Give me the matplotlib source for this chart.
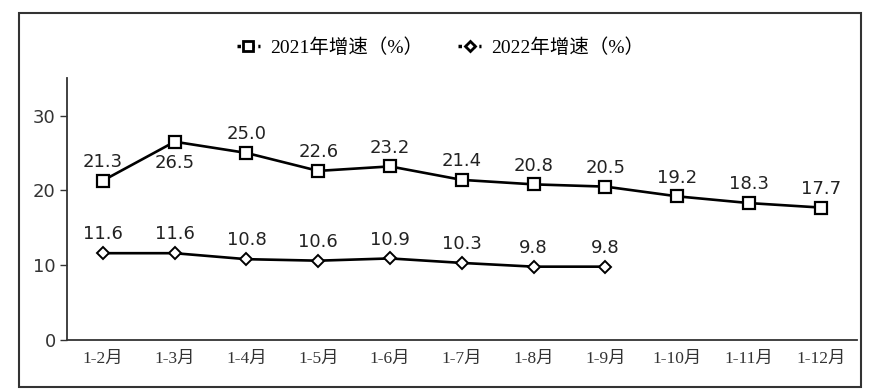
import matplotlib.pyplot as plt
from matplotlib.patches import Rectangle

# data
months = ["1-2月", "1-3月", "1-4月", "1-5月", "1-6月", "1-7月",
          "1-8月", "1-9月", "1-10月", "1-11月", "1-12月"]
growth_2021 = [21.3, 26.5, 25.0, 22.6, 23.2, 21.4, 20.8, 20.5, 19.2, 18.3, 17.7]
growth_2022 = [11.6, 11.6, 10.8, 10.6, 10.9, 10.3, 9.8, 9.8]
label_2021 = "2021年增速（%）"
label_2022 = "2022年增速（%）"

cjk = ["Liberation Serif", "Noto Sans CJK SC"]

fig = plt.figure(figsize=(8.86, 3.92), dpi=100)
ax = fig.add_axes([0.0756, 0.1327, 0.8914, 0.668])

x1 = range(len(growth_2021))
x2 = range(len(growth_2022))
ax.plot(x1, growth_2021, color="black", lw=1.9, marker="s", ms=8,
        mfc="white", mec="black", mew=1.6, label=label_2021, zorder=3)
ax.plot(x2, growth_2022, color="black", lw=1.9, marker="D", ms=6,
        mfc="white", mec="black", mew=1.4, label=label_2022, zorder=3)

# data labels
for i, v in enumerate(growth_2021):
    if i == 1:
        ax.annotate(f"{v:.1f}", (i, v), xytext=(0, -9), textcoords="offset points",
                    ha="center", va="top", fontsize=13, color="#222222")
    else:
        ax.annotate(f"{v:.1f}", (i, v), xytext=(0, 7), textcoords="offset points",
                    ha="center", va="bottom", fontsize=13, color="#222222")
for i, v in enumerate(growth_2022):
    ax.annotate(f"{v:.1f}", (i, v), xytext=(0, 7), textcoords="offset points",
                ha="center", va="bottom", fontsize=13, color="#222222")

ax.set_xlim(-0.5, len(months) - 0.5)
ax.set_ylim(0, 35)
ax.set_yticks([0, 10, 20, 30])
ax.set_xticks(range(len(months)))
ax.set_xticklabels(months, family=cjk, fontsize=12.5, color="#333333")
ax.tick_params(axis="y", labelsize=13, length=5, width=1, colors="#333333", pad=3)
ax.tick_params(axis="x", length=0, pad=8)
for s in ["top", "right"]:
    ax.spines[s].set_visible(False)
for s in ["left", "bottom"]:
    ax.spines[s].set_linewidth(1.3)
    ax.spines[s].set_color("#333333")

leg = fig.legend(loc="center", bbox_to_anchor=(0.497, 0.878), ncol=2, frameon=False,
                 prop={"family": cjk, "size": 14}, handlelength=1.2, markerscale=0.85,
                 columnspacing=1.8, handletextpad=0.5)
for line in leg.get_lines():
    line.set_linestyle((0, (1, 1)))
    line.set_linewidth(2.5)
    line.set_markeredgewidth(2)

# outer border
fig.patches.append(Rectangle((0.021, 0.013), 0.951, 0.954, transform=fig.transFigure,
                             fill=False, lw=1.5, ec="#333333"))

fig.savefig("out.png", dpi=100)
